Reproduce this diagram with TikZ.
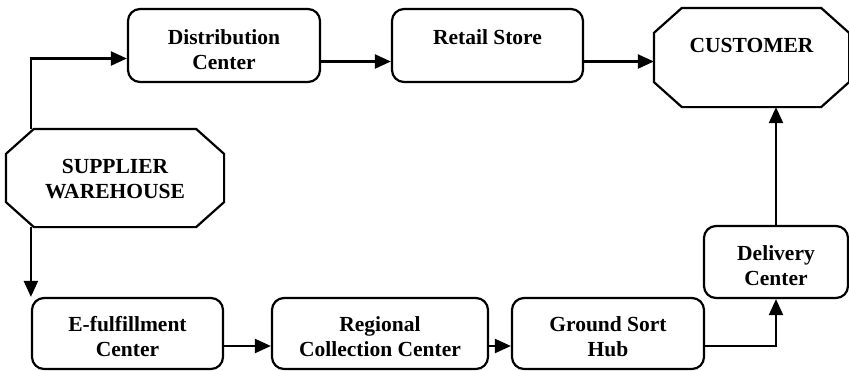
\documentclass[tikz,border=0pt]{standalone}
\usepackage{fontspec}
\setmainfont{Liberation Serif}
\usetikzlibrary{arrows.meta}
% octagon drawn around a named node: #1 node, #2 horizontal cut, #3 vertical cut
\newcommand\cutcorners[3]{%
  \draw ([xshift=#2]#1.north west) -- ([xshift=-#2]#1.north east)
     -- ([yshift=-#3]#1.north east) -- ([yshift=#3]#1.south east)
     -- ([xshift=-#2]#1.south east) -- ([xshift=#2]#1.south west)
     -- ([yshift=#3]#1.south west) -- ([yshift=-#3]#1.north west) -- cycle;}
\begin{document}
\begin{tikzpicture}[x=1pt,y=-1pt,
  line width=2.2pt,
  txt/.style={font=\fontsize{21.5}{25}\selectfont\bfseries, align=center, inner sep=0pt},
  stage/.style={draw, rounded corners=12pt, inner sep=0pt},
  endpoint/.style={inner sep=0pt},
  flow/.style={-{Triangle[length=16pt,width=14pt]}}]
\useasboundingbox (0,0) rectangle (849,370);

% end points of the chain
\node[endpoint, minimum width=216pt, minimum height=96pt,
  label={[txt, yshift=-1pt]center:SUPPLIER\\WAREHOUSE}] (sw) at (115,178) {};
\cutcorners{sw}{28pt}{25pt}
\node[endpoint, minimum width=193pt, minimum height=97pt,
  label={[txt, yshift=12.5pt]center:CUSTOMER}] (cu) at (751.5,57.5) {};
\cutcorners{cu}{28pt}{25pt}

% store route
\node[stage, minimum width=192pt, minimum height=73pt,
  label={[txt, yshift=-4pt]center:Distribution\\Center}] (dc) at (224,45.5) {};
\node[stage, minimum width=191pt, minimum height=73pt,
  label={[txt, yshift=8.5pt]center:Retail Store}] (rs) at (487.5,45.5) {};

% online route
\node[stage, minimum width=191pt, minimum height=71pt,
  label={[txt, yshift=-3pt]center:E-fulfillment\\Center}] (ef) at (127.5,333.5) {};
\node[stage, minimum width=216pt, minimum height=71pt,
  label={[txt, yshift=-3pt]center:Regional\\Collection Center}] (rc) at (380,333.5) {};
\node[stage, minimum width=192pt, minimum height=71pt,
  label={[txt, yshift=-3pt]center:Ground Sort\\Hub}] (gs) at (608,333.5) {};
\node[stage, minimum width=144pt, minimum height=72pt,
  label={[txt, yshift=-4pt]center:Delivery\\Center}] (dl) at (776,262) {};

% connectors
\draw[flow] (sw.north -| ef.west) |- ([yshift=-13pt]dc.west);
\draw[flow] ([yshift=-16pt]dc.east) -- ([yshift=-16pt]rs.west);
\draw[flow] ([yshift=-16pt]rs.east) -- ([yshift=-16pt]rs.east -| cu.west);
\draw[flow] (sw.south -| ef.west) -- (ef.west |- ef.north);
\draw[flow] ([yshift=-12.5pt]ef.east) -- ([yshift=-12.5pt]rc.west);
\draw[flow] ([yshift=-12.5pt]rc.east) -- ([yshift=-12.5pt]gs.west);
\draw[flow] ([yshift=-12.5pt]gs.east) -| (dl.south);
\draw[flow] (dl.north) -- (dl.north |- cu.south);
\end{tikzpicture}
\end{document}
